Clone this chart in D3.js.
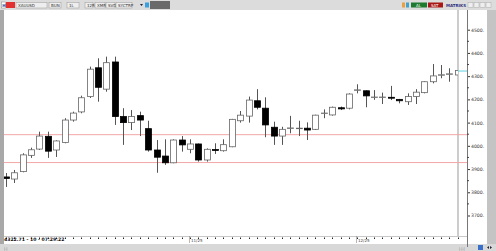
<!DOCTYPE html>
<html>
<head>
    <title>XAUUSD</title>
    <script src="https://d3js.org/d3.v7.min.js"></script>
    <style>
        body { margin: 0; background: #fff; }
        svg { display: block; font-family: "DejaVu Sans", Arial, sans-serif; }
    </style>
</head>
<body>
    <svg id="chartdiv"></svg>
    <script>
        const width = 496;
        const height = 251;

        // daily candles
        const opens  = [3866,3857,3889,3959,3986,4041,3982,4014,4111,4146,4212,4336,4244,4361,4126,4100,4130,4074,3982,3956,
                        3927,4025,3985,4008,3939,3984,3979,3996,4108,4128,4194,4162,4080,4042,4075,4074,4076,4071,4139,4133,
                        4164,4162,4239,4237,4208,4208,4209,4200,4190,4212,4229,4276,4304,4308,4305];
        const highs  = [3883,3896,3968,3992,4061,4061,4024,4119,4147,4216,4341,4377,4384,4384,4162,4154,4147,4108,4025,4028,
                        4028,4042,4028,4010,3989,4011,4028,4116,4150,4212,4244,4209,4104,4082,4129,4108,4101,4134,4157,4169,
                        4169,4226,4265,4239,4240,4229,4258,4202,4226,4244,4278,4352,4348,4334,4327];
        const lows   = [3823,3840,3886,3948,3982,3948,3952,4011,4104,4140,4206,4190,4233,4090,4004,4068,4042,3975,3884,3918,
                        3925,3975,3968,3932,3932,3965,3975,3994,4100,4100,4157,4037,4004,4004,4054,4042,4025,4068,4119,4130,
                        4154,4157,4226,4166,4198,4180,4197,4183,4176,4180,4226,4269,4291,4276,4303];
        const closes = [3859,3884,3961,3983,4042,3977,4021,4111,4141,4207,4330,4252,4358,4126,4100,4126,4111,3982,3951,3927,
                        4025,4004,4008,3939,3985,3980,4005,4114,4132,4197,4166,4090,4042,4071,4077,4076,4068,4132,4141,4166,
                        4159,4223,4241,4215,4210,4210,4205,4194,4212,4231,4276,4301,4306,4310,4324];

        const priceTicks = [3700, 3800, 3900, 4000, 4100, 4200, 4300, 4400, 4500];
        const minorTicks = [3750, 3850, 3950, 4050, 4150, 4250, 4350, 4450];
        const levels = [4048, 3928];
        const dateLabels = [[22, "11/25"], [42, "12/25"]];
        const lastPrice = "4322.71 - 10 - 07:29:22";
        const toolLeft = ["XAUUSD", "BUN", "1L", "12R", "XMR", "SVD", "SYCTRP"];

        const candles = opens.map((o, i) => ({ i: i, o: o, h: highs[i], l: lows[i], c: closes[i] }));

        const plotLeft = 4, plotRight = 458, plotTop = 10, plotBottom = 236;
        const axisX = 467;

        const svg = d3.select("#chartdiv")
            .attr("width", width)
            .attr("height", height);

        const x = d3.scaleLinear().domain([0, candles.length - 1]).range([6, 457.7]);
        const y = d3.scaleLinear().domain([3700, 4500]).range([215.5, 29.7]);

        // frame pieces
        svg.append("rect").attr("x", 0).attr("y", 0).attr("width", width).attr("height", height).attr("fill", "#fff");
        svg.append("rect").attr("x", 0).attr("y", 0).attr("width", width).attr("height", 10).attr("fill", "#dcdcdc");
        svg.append("rect").attr("x", 0).attr("y", 10).attr("width", plotLeft).attr("height", 234).attr("fill", "#a8a8a8");
        svg.append("rect").attr("x", 487).attr("y", 10).attr("width", 9).attr("height", 234).attr("fill", "#c4c4c4");
        svg.append("rect").attr("x", 0).attr("y", 244).attr("width", width).attr("height", 7).attr("fill", "#d8d8d8");

        // toolbar
        const tb = svg.append("g").style("font-size", "4px");
        tb.append("rect").attr("x", 1.5).attr("y", 2).attr("width", 4).attr("height", 6).attr("fill", "#fff").attr("stroke", "#888").attr("stroke-width", 0.5);
        tb.append("text").attr("x", 2.2).attr("y", 6.8).attr("fill", "#1a3ca0").style("font-weight", "bold").text("H");
        tb.append("rect").attr("x", 6).attr("y", 2).attr("width", 9).attr("height", 6).attr("fill", "#e23030");
        let tx = 16;
        const boxW = [31, 12, 12, 8, 10, 9, 16];
        const gaps = [2, 6, 6, 2, 1, 1, 0];
        toolLeft.forEach((t, k) => {
            tb.append("rect").attr("x", tx).attr("y", 2.5).attr("width", boxW[k]).attr("height", 5.5)
                .attr("fill", "#eeeeee").attr("stroke", "#999").attr("stroke-width", 0.5);
            tb.append("text").attr("x", tx + 2).attr("y", 6.6).attr("fill", "#333").text(t);
            tx += boxW[k] + gaps[k];
        });
        tb.append("path").attr("d", "M140,4 L143,4 L141.5,6 Z").attr("fill", "#223");
        tb.append("rect").attr("x", 145).attr("y", 2.5).attr("width", 4).attr("height", 5).attr("fill", "#3aa0e0");
        tb.append("rect").attr("x", 150).attr("y", 1).attr("width", 20).attr("height", 8).attr("fill", "#6a6a6a");
        tb.append("rect").attr("x", 402).attr("y", 2.5).attr("width", 3).attr("height", 5).attr("fill", "#e8a040");
        tb.append("rect").attr("x", 406).attr("y", 2.5).attr("width", 3).attr("height", 5).attr("fill", "#40a0d0");
        tb.append("rect").attr("x", 411).attr("y", 2.5).attr("width", 16).attr("height", 5).attr("fill", "#1e7a2e");
        tb.append("text").attr("x", 416).attr("y", 6.5).attr("fill", "#fff").text("AL");
        tb.append("rect").attr("x", 428).attr("y", 2.5).attr("width", 15).attr("height", 5).attr("fill", "#a81818");
        tb.append("text").attr("x", 431).attr("y", 6.5).attr("fill", "#fff").text("SAT");
        tb.append("text").attr("x", 446).attr("y", 6.5).attr("fill", "#303080").style("font-weight", "bold").text("MATRIKS");
        [468, 474, 480, 486].forEach(bx => {
            tb.append("rect").attr("x", bx).attr("y", 2.5).attr("width", 5).attr("height", 5)
                .attr("fill", "#eee").attr("stroke", "#aaa").attr("stroke-width", 0.5);
        });

        // plot borders
        svg.append("line").attr("x1", plotRight).attr("x2", plotRight).attr("y1", plotTop).attr("y2", plotBottom)
            .attr("stroke", "#9a9a9a").attr("stroke-width", 1);
        svg.append("line").attr("x1", plotLeft).attr("x2", axisX).attr("y1", plotBottom + 0.5).attr("y2", plotBottom + 0.5)
            .attr("stroke", "#c8c8c8").attr("stroke-width", 1);

        // support / resistance lines
        svg.selectAll(".level")
            .data(levels)
            .enter().append("line")
            .attr("class", "level")
            .attr("x1", plotLeft).attr("x2", axisX)
            .attr("y1", d => y(d)).attr("y2", d => y(d))
            .attr("stroke", "#f2a6a6").attr("stroke-width", 1);

        // candles
        svg.append("clipPath").attr("id", "plotclip")
            .append("rect").attr("x", plotLeft).attr("y", plotTop).attr("width", plotRight - plotLeft).attr("height", plotBottom - plotTop);

        const cg = svg.append("g").attr("clip-path", "url(#plotclip)");
        const nodes = cg.selectAll(".candle")
            .data(candles)
            .enter().append("g")
            .attr("class", "candle");

        nodes.append("line")
            .attr("x1", d => Math.round(x(d.i)) + 0.5).attr("x2", d => Math.round(x(d.i)) + 0.5)
            .attr("y1", d => y(d.h)).attr("y2", d => y(d.l))
            .attr("stroke", "#555").attr("stroke-width", 1);

        nodes.append("rect")
            .attr("x", d => Math.round(x(d.i)) - 2.5)
            .attr("y", d => y(Math.max(d.o, d.c)))
            .attr("width", 6)
            .attr("height", d => Math.max(0.5, Math.abs(y(d.o) - y(d.c))))
            .attr("fill", d => d.c < d.o ? "#000" : "#fff")
            .attr("stroke", d => d.c < d.o ? "#000" : "#666")
            .attr("stroke-width", 0.8);

        // price axis
        const yAxis = d3.axisRight(y).tickValues(priceTicks).tickFormat(d => d + ".").tickSize(3).tickPadding(1);
        const ag = svg.append("g").attr("transform", `translate(${axisX},0)`).call(yAxis);
        ag.select(".domain").remove();
        ag.selectAll("line").attr("stroke", "#333");
        ag.selectAll("text").style("font-size", "4.6px").attr("fill", "#333").attr("font-family", "DejaVu Sans, sans-serif");
        svg.append("line").attr("x1", axisX + 0.5).attr("x2", axisX + 0.5).attr("y1", plotTop).attr("y2", 247)
            .attr("stroke", "#777").attr("stroke-width", 1);
        svg.selectAll(".minor")
            .data(minorTicks)
            .enter().append("rect")
            .attr("x", axisX).attr("y", d => y(d) - 0.5).attr("width", 2).attr("height", 1).attr("fill", "#444");

        // last price marker
        svg.append("line").attr("x1", plotRight).attr("x2", axisX).attr("y1", y(4322)).attr("y2", y(4322))
            .attr("stroke", "#5fd0e0").attr("stroke-width", 1);

        // time axis dots
        svg.selectAll(".tdot")
            .data(candles)
            .enter().append("rect")
            .attr("x", d => Math.round(x(d.i))).attr("y", 237.5).attr("width", 1).attr("height", 1.5).attr("fill", "#222");

        const dl = svg.selectAll(".dlab").data(dateLabels).enter().append("g");
        dl.append("line")
            .attr("x1", d => Math.round(x(d[0])) - 0.5).attr("x2", d => Math.round(x(d[0])) - 0.5)
            .attr("y1", 236).attr("y2", 243).attr("stroke", "#888").attr("stroke-width", 0.6);
        dl.append("text")
            .attr("x", d => Math.round(x(d[0])) + 1).attr("y", 241.5)
            .style("font-size", "4px").attr("fill", "#444").text(d => d[1]);

        svg.append("text").attr("x", 4).attr("y", 241).style("font-size", "4.6px").style("font-weight", "bold")
            .attr("fill", "#111").text(lastPrice);

        // status bar bits
        svg.append("text").attr("x", 4).attr("y", 249.5).style("font-size", "3.5px").attr("fill", "#777").text("|.|");
        svg.append("text").attr("x", 459).attr("y", 249.5).style("font-size", "3.5px").attr("fill", "#777").text("|.|.|");
        svg.append("rect").attr("x", 478).attr("y", 245).attr("width", 5).attr("height", 5).attr("fill", "#3a70c8");
        svg.append("path").attr("d", "M487,247.5 L489,246 L489,249 Z M490,246 L492,247.5 L490,249 Z").attr("fill", "#223");
    </script>
</body>
</html>
